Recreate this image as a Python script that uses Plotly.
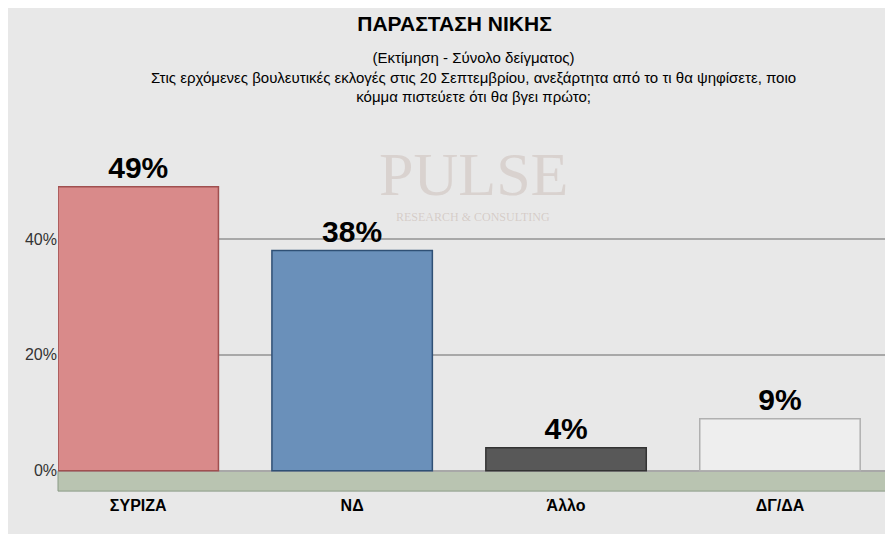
import plotly.graph_objects as go

categories = ["ΣΥΡΙΖΑ", "ΝΔ", "Άλλο", "ΔΓ/ΔΑ"]
values = [49, 38, 4, 9]
labels = ["49%", "38%", "4%", "9%"]
colors = ["#d98a8a", "#6a90ba", "#585858", "#eeeeee"]
lines = ["#a05050", "#2f5075", "#333333", "#b0b0b0"]

fig = go.Figure()
fig.add_shape(type="rect", xref="paper", yref="y", x0=0.0, x1=1.0, y0=-3.5, y1=0,
              fillcolor="#b9c4b1", line=dict(color="#8a9a86", width=1), layer="below")
fig.add_trace(go.Bar(x=[0, 1, 2, 3], y=values, marker=dict(color=colors, line=dict(color=lines, width=1.5)),
                     width=0.75, text=["<b>%s</b>" % l for l in labels], textposition="outside",
                     textfont=dict(size=30, color="black", family="Liberation Sans"),
                     cliponaxis=False))
fig.add_annotation(text="PULSE", x=0.5, y=0.96, xref="paper", yref="paper", showarrow=False,
                   font=dict(size=62, color="rgba(190,170,160,0.35)", family="Liberation Serif"))
fig.add_annotation(text="RESEARCH & CONSULTING", x=0.5, y=0.77, xref="paper", yref="paper",
                   showarrow=False, font=dict(size=12, color="rgba(190,170,160,0.45)", family="Liberation Serif"))
fig.update_layout(
    width=893, height=534, paper_bgcolor="#e8e8e8", plot_bgcolor="#e8e8e8",
    margin=dict(l=50, r=13, t=115, b=48), showlegend=False,
    title=dict(text="<b>ΠΑΡΑΣΤΑΣΗ ΝΙΚΗΣ</b>", x=0.5, y=0.985, yanchor="top", xanchor="center",
               font=dict(size=21, color="black", family="Liberation Sans")),
    font=dict(family="Liberation Sans", color="black"),
    yaxis=dict(range=[-4, 60], tickvals=[0, 20, 40], ticktext=["0%", "20%", "40%"],
               showgrid=True, gridcolor="#a8a8a8", gridwidth=2, zeroline=False,
               tickfont=dict(size=16, color="#333"), ticks=""),
    xaxis=dict(range=[-0.375, 3.505], tickvals=[0, 1, 2, 3],
               ticktext=["<b>%s</b>" % c for c in categories],
               tickfont=dict(size=16, color="black", family="Liberation Sans"), ticks="",
               showline=False, showgrid=False, zeroline=False),
)
fig.add_annotation(text="(Εκτίμηση - Σύνολο δείγματος)<br>Στις ερχόμενες βουλευτικές εκλογές στις 20 Σεπτεμβρίου, ανεξάρτητα από το τι θα ψηφίσετε, ποιο<br>κόμμα πιστεύετε ότι θα βγει πρώτο;",
                   x=0.5, xref="paper", yref="paper", y=1.0, yanchor="top", yshift=76,
                   xanchor="center", showarrow=False, align="center",
                   font=dict(size=15, color="black"))
fig.write_html("out.html")
